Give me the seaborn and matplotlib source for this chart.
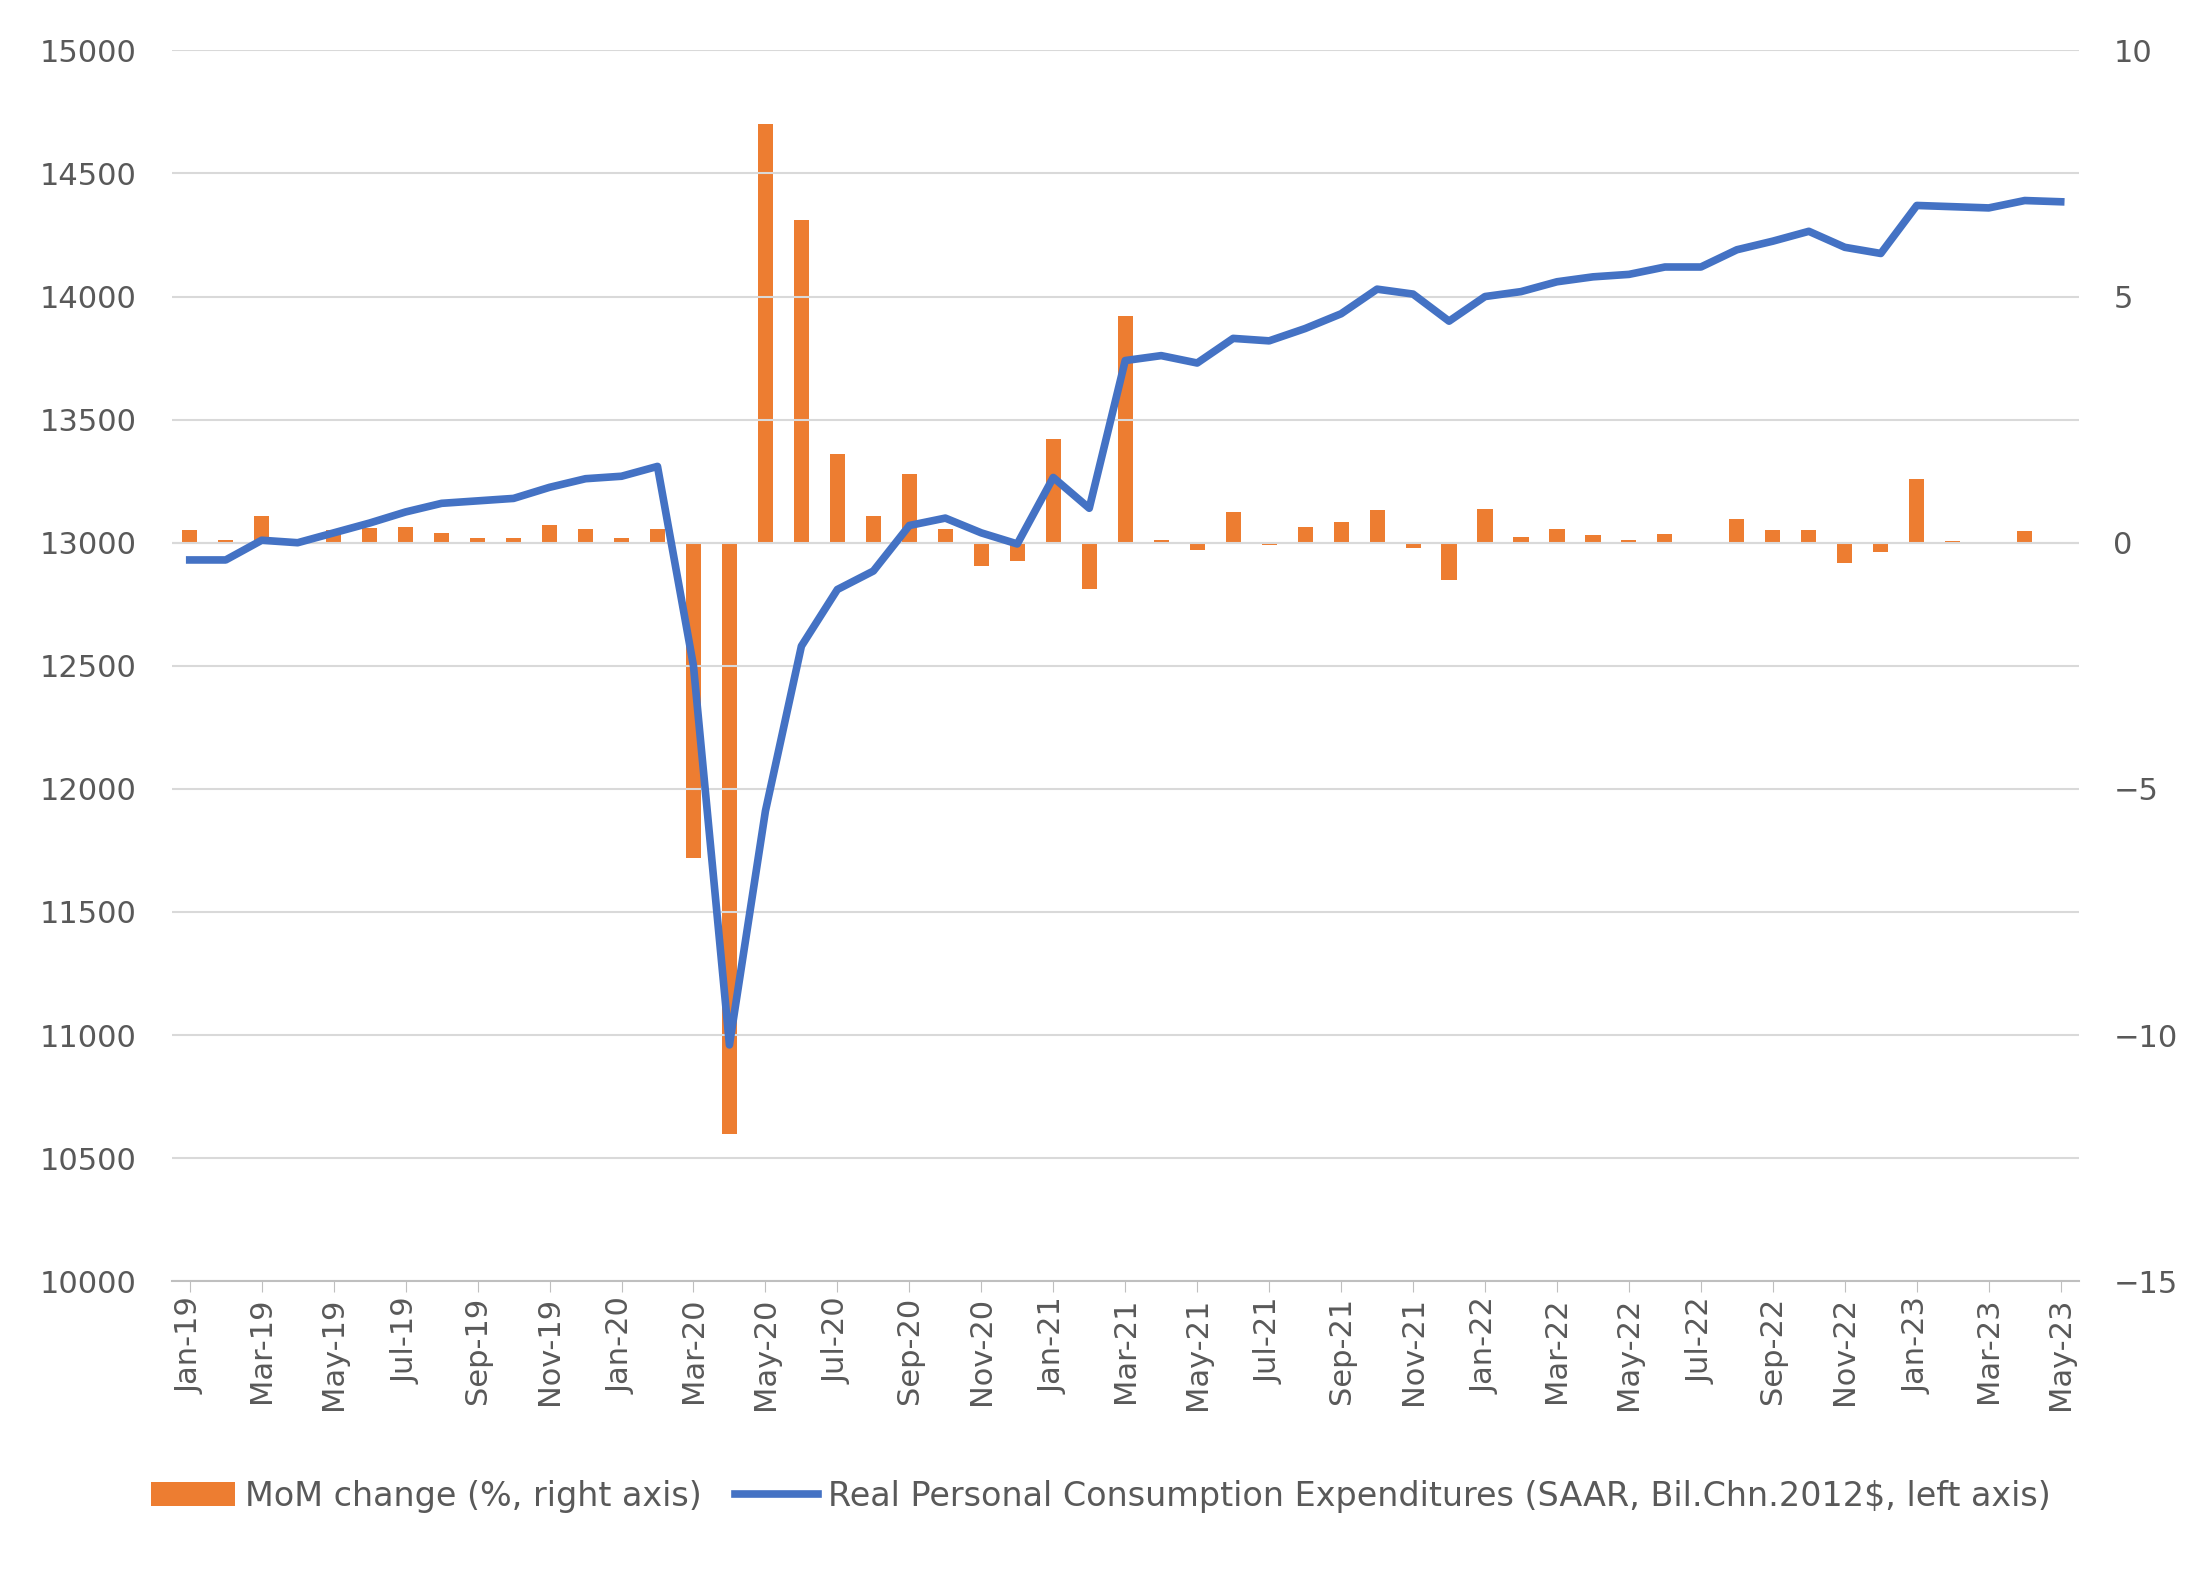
# Real PCE level (left axis) and month-over-month change (right axis)
import numpy as np
import pandas as pd
import seaborn as sns
import matplotlib.pyplot as plt

months = pd.date_range('2019-01-01', '2023-05-01', freq='MS').strftime('%b-%y').tolist()

pce = [12930, 12930, 13010, 13000, 13040, 13080, 13125, 13160, 13170, 13180, 13225, 13260,
       13270, 13310, 12500, 10960, 11910, 12580, 12810, 12885, 13070, 13100, 13040, 12995,
       13265, 13140, 13740, 13760, 13730, 13830, 13820, 13870, 13930, 14030, 14010, 13900,
       14000, 14020, 14060, 14080, 14090, 14120, 14120, 14190, 14225, 14265, 14200, 14175,
       14370, 14365, 14360, 14390, 14385]

mom = [0.26, 0.05, 0.55, 0.05, 0.25, 0.3, 0.32, 0.2, 0.1, 0.1, 0.35, 0.27,
       0.1, 0.27, -6.4, -12.0, 8.5, 6.55, 1.8, 0.55, 1.4, 0.27, -0.48, -0.37,
       2.1, -0.95, 4.6, 0.05, -0.15, 0.63, -0.05, 0.32, 0.43, 0.66, -0.1, -0.75,
       0.68, 0.12, 0.27, 0.15, 0.06, 0.18, 0.0, 0.48, 0.26, 0.26, -0.42, -0.18,
       1.3, 0.03, -0.03, 0.24, -0.03]

df = pd.DataFrame({'month': months, 'pos': np.arange(len(months)), 'pce': pce, 'mom': mom})

fig, ax = plt.subplots(figsize=(22.02, 15.74), dpi=100)
fig.subplots_adjust(left=0.078, right=0.944, top=0.968, bottom=0.186)
ax2 = ax.twinx()

sns.barplot(data=df, x='month', y='mom', ax=ax2, color='#ED7D31', width=0.42,
            saturation=1, label='MoM change (%, right axis)')
ax2.axhline(0, color='#D9D9D9', lw=1.5, zorder=0)
sns.lineplot(data=df, x='pos', y='pce', ax=ax, color='#4472C4', lw=5.5,
             label='Real Personal Consumption Expenditures (SAAR, Bil.Chn.2012$, left axis)')

ax.set_zorder(ax2.get_zorder() + 1)
ax.patch.set_visible(False)

ax.set_ylim(10000, 15000)
ax.set_yticks(range(10000, 15001, 500))
ax2.set_ylim(-15, 10)
ax2.set_yticks(range(-15, 11, 5))
ax.set_xlim(-0.5, len(months) - 0.5)
ax2.set_xlim(-0.5, len(months) - 0.5)
ax.set_xticks(range(0, len(months), 2))
ax.set_xticklabels(months[::2], rotation=90)
ax.grid(axis='y', color='#D9D9D9', lw=1.5)
ax.tick_params(axis='y', length=0, labelsize=22, colors='#595959', pad=25)
ax2.tick_params(axis='y', length=0, labelsize=22, colors='#595959', pad=25)
ax.tick_params(axis='x', labelsize=22, colors='#595959', length=8, color='#BFBFBF')
ax2.tick_params(axis='x', length=0, labelbottom=False)
ax.set_xlabel('')
ax.set_ylabel('')
ax2.set_ylabel('')
ax2.set_xlabel('')
for a in (ax, ax2):
    for s in a.spines.values():
        s.set_visible(False)
ax.spines['bottom'].set_visible(True)
ax.spines['bottom'].set_color('#BFBFBF')
ax.spines['bottom'].set_linewidth(1.5)

h1, l1 = ax2.get_legend_handles_labels()
h2, l2 = ax.get_legend_handles_labels()
if ax2.get_legend():
    ax2.get_legend().remove()
ax.legend(h1 + h2, l1 + l2, loc='lower center', bbox_to_anchor=(0.5, 0.02),
          bbox_transform=fig.transFigure, ncol=2, frameon=False, fontsize=24,
          labelcolor='#595959', handlelength=2.5, columnspacing=1.0, handletextpad=0.3)

fig.savefig('out.png', dpi=100)
